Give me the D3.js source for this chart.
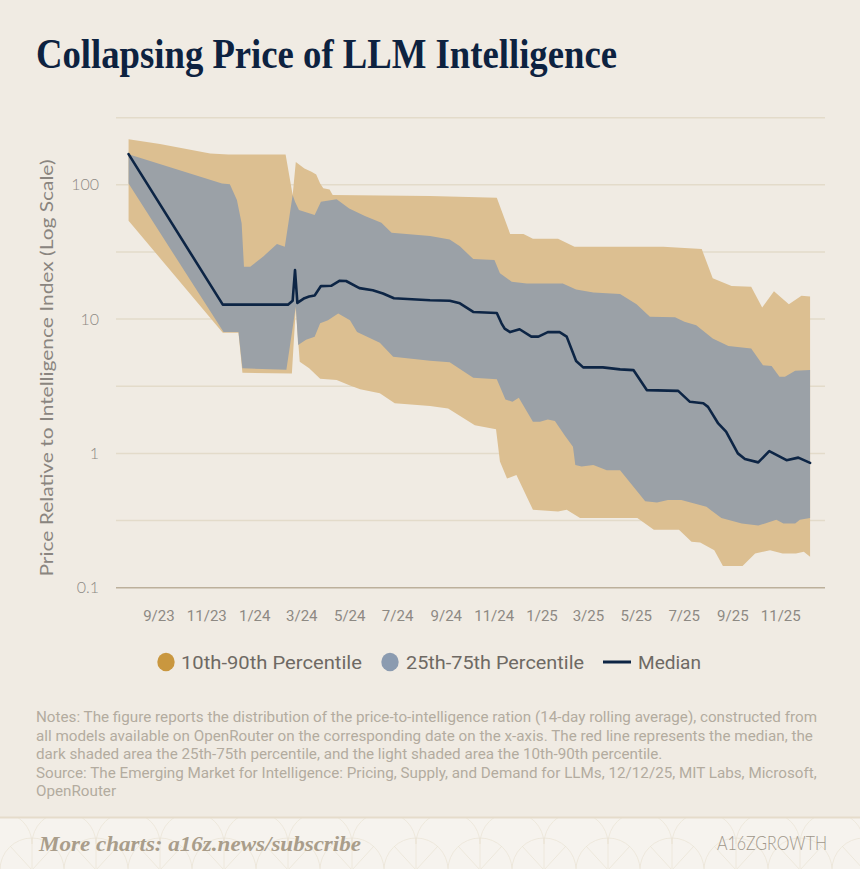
<!DOCTYPE html>
<html>
<head>
<meta charset="utf-8">
<script src="https://cdn.jsdelivr.net/npm/d3@7"></script>
<style>
  html, body { margin: 0; padding: 0; background: #f0ebe3; }
  svg { display: block; }
</style>
</head>
<body>
<svg id="chart" width="860" height="869"></svg>
<script>
// ---- data ----
let p90 = [
  ["2023-07-25", 218], ["2023-09-03", 201], ["2023-11-06", 171], ["2023-11-29", 168],
  ["2024-02-10", 168], ["2024-02-19", 84], ["2024-02-23", 148], ["2024-03-05", 132],
  ["2024-03-14", 125], ["2024-03-20", 119], ["2024-03-25", 102], ["2024-03-29", 94],
  ["2024-04-06", 92], ["2024-04-10", 84], ["2024-08-12", 82.4], ["2024-11-05", 80],
  ["2024-11-22", 43], ["2024-12-09", 43], ["2024-12-21", 39.6], ["2025-01-22", 39.6],
  ["2025-02-12", 34.5], ["2025-06-05", 34.5], ["2025-07-24", 33.2], ["2025-08-07", 20.1],
  ["2025-08-31", 17.6], ["2025-09-25", 17.4], ["2025-10-09", 12.2], ["2025-10-24", 16.1],
  ["2025-11-12", 12.9], ["2025-11-28", 14.9], ["2025-12-09", 14.7]
]

let p75 = [
  ["2023-07-25", 169], ["2023-11-21", 102], ["2023-12-01", 101], ["2023-12-10", 77],
  ["2023-12-16", 51.6], ["2023-12-19", 24.5], ["2023-12-27", 24.5], ["2024-01-13", 29.4],
  ["2024-01-30", 36.2], ["2024-02-09", 34.5], ["2024-02-19", 83.8], ["2024-02-22", 74.6],
  ["2024-02-27", 64.9], ["2024-03-18", 59.5], ["2024-03-26", 74.6], ["2024-04-15", 77.9],
  ["2024-05-01", 66.7], ["2024-05-21", 58.5], ["2024-06-11", 52.1], ["2024-06-24", 43.9],
  ["2024-08-12", 41.5], ["2024-09-06", 39.2], ["2024-09-19", 34.8], ["2024-10-06", 28.0],
  ["2024-11-02", 27.5], ["2024-11-09", 21.9], ["2024-11-24", 19.0], ["2024-12-13", 18.4],
  ["2025-01-28", 18.4], ["2025-02-14", 16.6], ["2025-03-08", 15.8], ["2025-04-11", 15.4],
  ["2025-05-02", 12.9], ["2025-05-19", 10.4], ["2025-06-20", 10.3], ["2025-07-02", 9.55],
  ["2025-07-17", 9.0], ["2025-08-07", 7.18], ["2025-08-27", 6.3], ["2025-09-25", 6.05],
  ["2025-10-10", 4.54], ["2025-10-21", 4.47], ["2025-10-31", 3.72], ["2025-11-07", 3.72],
  ["2025-11-20", 4.12], ["2025-12-09", 4.17]
]

let median = [
  ["2023-07-25", 169], ["2023-11-22", 12.8], ["2024-02-13", 12.8], ["2024-02-19", 13.7],
  ["2024-02-22", 23.2], ["2024-02-25", 13.2], ["2024-03-05", 14.3], ["2024-03-11", 14.7],
  ["2024-03-18", 15.0], ["2024-03-26", 17.6], ["2024-04-08", 17.7], ["2024-04-19", 19.3],
  ["2024-04-27", 19.2], ["2024-05-14", 17.0], ["2024-05-31", 16.4], ["2024-06-13", 15.5],
  ["2024-06-27", 14.3], ["2024-08-12", 13.8], ["2024-09-06", 13.7], ["2024-09-19", 13.1],
  ["2024-10-06", 11.3], ["2024-11-05", 11.1], ["2024-11-11", 9.3], ["2024-11-15", 8.5],
  ["2024-11-22", 8.0], ["2024-12-04", 8.4], ["2024-12-19", 7.4], ["2024-12-28", 7.4],
  ["2025-01-09", 8.0], ["2025-01-24", 8.0], ["2025-02-02", 7.4], ["2025-02-14", 4.87],
  ["2025-02-23", 4.37], ["2025-03-20", 4.37], ["2025-04-11", 4.22], ["2025-04-28", 4.17],
  ["2025-05-15", 2.96], ["2025-06-24", 2.92], ["2025-07-09", 2.42], ["2025-07-26", 2.36],
  ["2025-08-01", 2.22], ["2025-08-14", 1.67], ["2025-08-24", 1.45], ["2025-09-08", 1.0],
  ["2025-09-17", 0.907], ["2025-10-04", 0.857], ["2025-10-18", 1.04], ["2025-11-09", 0.89],
  ["2025-11-24", 0.93], ["2025-12-09", 0.85]
]

let p25 = [
  ["2023-07-25", 102], ["2023-11-23", 8.0], ["2023-12-12", 8.0], ["2023-12-17", 4.3],
  ["2024-02-11", 4.2], ["2024-02-23", 12.4], ["2024-02-26", 6.4], ["2024-03-07", 7.0],
  ["2024-03-18", 7.4], ["2024-03-25", 9.3], ["2024-04-04", 9.8], ["2024-04-17", 11.0],
  ["2024-05-02", 9.8], ["2024-05-11", 8.0], ["2024-06-09", 6.66], ["2024-06-26", 5.24],
  ["2024-08-12", 4.9], ["2024-09-06", 4.76], ["2024-10-06", 3.66], ["2024-11-05", 3.57],
  ["2024-11-16", 2.52], ["2024-11-25", 2.42], ["2024-12-03", 2.59], ["2024-12-21", 1.72],
  ["2024-12-30", 1.72], ["2025-01-09", 1.79], ["2025-01-18", 1.74], ["2025-01-31", 1.35],
  ["2025-02-10", 1.12], ["2025-02-13", 0.82], ["2025-02-21", 0.80], ["2025-03-08", 0.82],
  ["2025-03-25", 0.75], ["2025-04-11", 0.75], ["2025-05-13", 0.44], ["2025-05-28", 0.43],
  ["2025-06-11", 0.45], ["2025-06-28", 0.45], ["2025-07-30", 0.40], ["2025-08-18", 0.33],
  ["2025-09-13", 0.30], ["2025-10-04", 0.29], ["2025-10-27", 0.32], ["2025-11-05", 0.30],
  ["2025-11-20", 0.30], ["2025-11-26", 0.32], ["2025-12-09", 0.33]
]

let p10 = [
  ["2023-07-25", 54], ["2023-11-22", 7.9], ["2023-12-12", 7.9], ["2023-12-17", 3.98],
  ["2024-02-18", 3.94], ["2024-02-23", 12.0], ["2024-02-28", 4.81], ["2024-03-11", 4.3],
  ["2024-03-25", 3.6], ["2024-04-15", 3.52], ["2024-05-02", 3.2], ["2024-05-15", 3.0],
  ["2024-06-09", 2.8], ["2024-06-28", 2.36], ["2024-08-12", 2.25], ["2024-09-04", 2.16],
  ["2024-10-08", 1.62], ["2024-11-04", 1.51], ["2024-11-09", 0.87], ["2024-11-18", 0.65],
  ["2024-11-30", 0.69], ["2024-12-21", 0.38], ["2025-01-22", 0.37], ["2025-02-02", 0.38],
  ["2025-02-19", 0.33], ["2025-05-03", 0.33], ["2025-05-24", 0.27], ["2025-06-25", 0.27],
  ["2025-07-11", 0.22], ["2025-07-22", 0.217], ["2025-08-09", 0.19], ["2025-08-20", 0.145],
  ["2025-09-14", 0.145], ["2025-09-30", 0.18], ["2025-10-19", 0.19], ["2025-11-04", 0.18],
  ["2025-11-21", 0.18], ["2025-12-01", 0.185], ["2025-12-09", 0.17]
]

let xTickDates = ["2023-09-01", "2023-11-01", "2024-01-01", "2024-03-01", "2024-05-01",
  "2024-07-01", "2024-09-01", "2024-11-01", "2025-01-01", "2025-03-01", "2025-05-01",
  "2025-07-01", "2025-09-01", "2025-11-01"]
let yTicks = [0.1, 1, 10, 100]
let gridValues = [0.316, 1, 3.16, 10, 31.6, 100, 316]

let legendItems = ["10th-90th Percentile", "25th-75th Percentile", "Median"]

let noteLines = [
  "Notes: The figure reports the distribution of the price-to-intelligence ration (14-day rolling average), constructed from",
  "all models available on OpenRouter on the corresponding date on the x-axis. The red line represents the median, the",
  "dark shaded area the 25th-75th percentile, and the light shaded area the 10th-90th percentile.",
  "Source: The Emerging Market for Intelligence: Pricing, Supply, and Demand for LLMs, 12/12/25, MIT Labs, Microsoft,",
  "OpenRouter"
]

// ---- drawing ----
let parseDate = d3.timeParse('%Y-%m-%d')
let svg = d3.select('#chart')

let colors = {
  bg: '#f0ebe3',
  gold: '#dcbf91',
  blue: '#9ba1a7',
  median: '#0d2545',
  grid: '#e3dbca',
  axis: '#bcb09b',
  tick: '#8d8983'
}

svg.append('rect').attr('width', 860).attr('height', 869).attr('fill', colors.bg)

// fit a text element to a given width by squeezing glyphs
let fitWidth = (sel, width) => {
  sel.attr('textLength', width).attr('lengthAdjust', 'spacingAndGlyphs')
}

// title
let title = svg.append('text')
  .text('Collapsing Price of LLM Intelligence')
  .attr('x', 36)
  .attr('y', 68)
  .attr('font-family', '"Liberation Serif", "DejaVu Serif", serif')
  .attr('font-weight', 'bold')
  .attr('font-size', 42)
  .attr('fill', '#0d2240')
fitWidth(title, 581)

let xScale = d3.scaleTime()
  .domain([parseDate('2023-07-09'), parseDate('2025-12-28')])
  .range([116, 825])

let yScale = d3.scaleLog()
  .domain([0.1, 316.2])
  .range([587.7, 117.6])

// gridlines
svg.append('g')
  .selectAll('line')
  .data(gridValues)
  .enter()
  .append('line')
  .attr('x1', 116)
  .attr('x2', 825)
  .attr('y1', (v) => yScale(v))
  .attr('y2', (v) => yScale(v))
  .attr('stroke', colors.grid)
  .attr('stroke-width', 1.5)

let toPoints = (series) => {
  return series.map((d) => [parseDate(d[0]), d[1]])
}

let line = d3.line()
  .x((d) => xScale(d[0]))
  .y((d) => yScale(d[1]))

let bandPath = (upper, lower) => {
  let pts = toPoints(upper).concat(toPoints(lower).reverse())
  return line(pts) + 'Z'
}

svg.append('path')
  .attr('d', bandPath(p90, p10))
  .attr('fill', colors.gold)

svg.append('path')
  .attr('d', bandPath(p75, p25))
  .attr('fill', colors.blue)

// baseline axis line at 0.1
svg.append('line')
  .attr('x1', 116)
  .attr('x2', 825)
  .attr('y1', yScale(0.1))
  .attr('y2', yScale(0.1))
  .attr('stroke', colors.axis)
  .attr('stroke-width', 1.5)

svg.append('path')
  .attr('d', line(toPoints(median)))
  .attr('fill', 'none')
  .attr('stroke', colors.median)
  .attr('stroke-width', 2.6)
  .attr('stroke-linejoin', 'round')
  .attr('stroke-linecap', 'round')

// x axis
let xAxis = d3.axisBottom(xScale)
  .tickValues(xTickDates.map(parseDate))
  .tickFormat(d3.timeFormat('%-m/%y'))
  .tickSize(0)
  .tickPadding(23)

let xAxisG = svg.append('g')
  .attr('transform', 'translate(0,' + yScale(0.1) + ')')
  .call(xAxis)
xAxisG.select('.domain').remove()
xAxisG.selectAll('text')
  .attr('font-family', 'Roboto, "Liberation Sans", sans-serif')
  .attr('font-size', 15)
  .attr('fill', colors.tick)

// y axis
let yAxis = d3.axisLeft(yScale)
  .tickValues(yTicks)
  .tickFormat((v) => v < 1 ? String(v) : d3.format('d')(v))
  .tickSize(0)
  .tickPadding(17)

let yAxisG = svg.append('g')
  .attr('transform', 'translate(116,0)')
  .call(yAxis)
yAxisG.select('.domain').remove()
yAxisG.selectAll('text')
  .attr('font-family', 'Lato, "Open Sans", sans-serif')
  .attr('font-weight', 300)
  .attr('font-size', 16)
  .attr('fill', colors.tick)

let yLabel = svg.append('text')
  .text('Price Relative to Intelligence Index (Log Scale)')
  .attr('transform', 'translate(53,368) rotate(-90)')
  .attr('text-anchor', 'middle')
  .attr('font-family', 'Lato, "Open Sans", sans-serif')
  .attr('font-size', 17)
  .attr('fill', '#8a857f')
fitWidth(yLabel, 417)

// legend
let legend = svg.append('g').attr('font-family', 'Roboto, "Liberation Sans", sans-serif')
legend.append('ellipse').attr('cx', 166).attr('cy', 662).attr('rx', 8.7).attr('ry', 9.2).attr('fill', '#c9973f')
legend.append('ellipse').attr('cx', 390).attr('cy', 662).attr('rx', 8.7).attr('ry', 9.2).attr('fill', '#8b9bb0')
legend.append('line').attr('x1', 603).attr('x2', 631).attr('y1', 662).attr('y2', 662)
  .attr('stroke', colors.median).attr('stroke-width', 3)

let legendX = [181, 406, 638]
let legendW = [181, 178, 63]
legendItems.forEach((label, i) => {
  let t = legend.append('text')
    .text(label)
    .attr('x', legendX[i])
    .attr('y', 669)
    .attr('font-size', 19)
    .attr('fill', '#6e6963')
  fitWidth(t, legendW[i])
})

// notes
let notes = svg.append('g')
  .attr('font-family', 'Roboto, "Liberation Sans", sans-serif')
  .attr('font-size', 14)
  .attr('fill', '#b3ab9f')
let noteTexts = noteLines.map((s, i) => {
  return notes.append('text')
    .text(s)
    .attr('x', 36)
    .attr('y', 722 + i * 18.5)
})
let squeeze = 781 / noteTexts[0].node().getComputedTextLength()
noteTexts.forEach((t) => {
  fitWidth(t, t.node().getComputedTextLength() * squeeze)
})

// footer
let defs = svg.append('defs')
let pat = defs.append('pattern')
  .attr('id', 'fans')
  .attr('patternUnits', 'userSpaceOnUse')
  .attr('width', 64)
  .attr('height', 52)
  .attr('x', 0)
  .attr('y', 818)
pat.append('rect').attr('width', 64).attr('height', 52).attr('fill', '#f6f3ee')
pat.append('path')
  .attr('d', 'M0,52 A32,32 0 0 1 64,52 M32,52 L32,20 M32,52 L10,28 M32,52 L54,28 M-32,26 A32,32 0 0 1 32,26 M32,26 A32,32 0 0 1 96,26')
  .attr('fill', 'none')
  .attr('stroke', '#ebe4d7')
  .attr('stroke-width', 0.8)

svg.append('rect')
  .attr('x', 0).attr('y', 818).attr('width', 860).attr('height', 51)
  .attr('fill', 'url(#fans)')
svg.append('line')
  .attr('x1', 0).attr('x2', 860).attr('y1', 817.5).attr('y2', 817.5)
  .attr('stroke', '#e5dccb').attr('stroke-width', 2)

let more = svg.append('text')
  .text('More charts: a16z.news/subscribe')
  .attr('x', 39)
  .attr('y', 851)
  .attr('font-family', '"Liberation Serif", "DejaVu Serif", serif')
  .attr('font-style', 'italic')
  .attr('font-weight', 'bold')
  .attr('font-size', 21)
  .attr('fill', '#a99d8a')
fitWidth(more, 322)

let logo = svg.append('text')
  .text('A16ZGROWTH')
  .attr('x', 717)
  .attr('y', 850)
  .attr('font-family', 'Lato, "Open Sans", sans-serif')
  .attr('font-weight', 300)
  .attr('font-size', 19)
  .attr('fill', '#a0978a')
fitWidth(logo, 110)
</script>
</body>
</html>
